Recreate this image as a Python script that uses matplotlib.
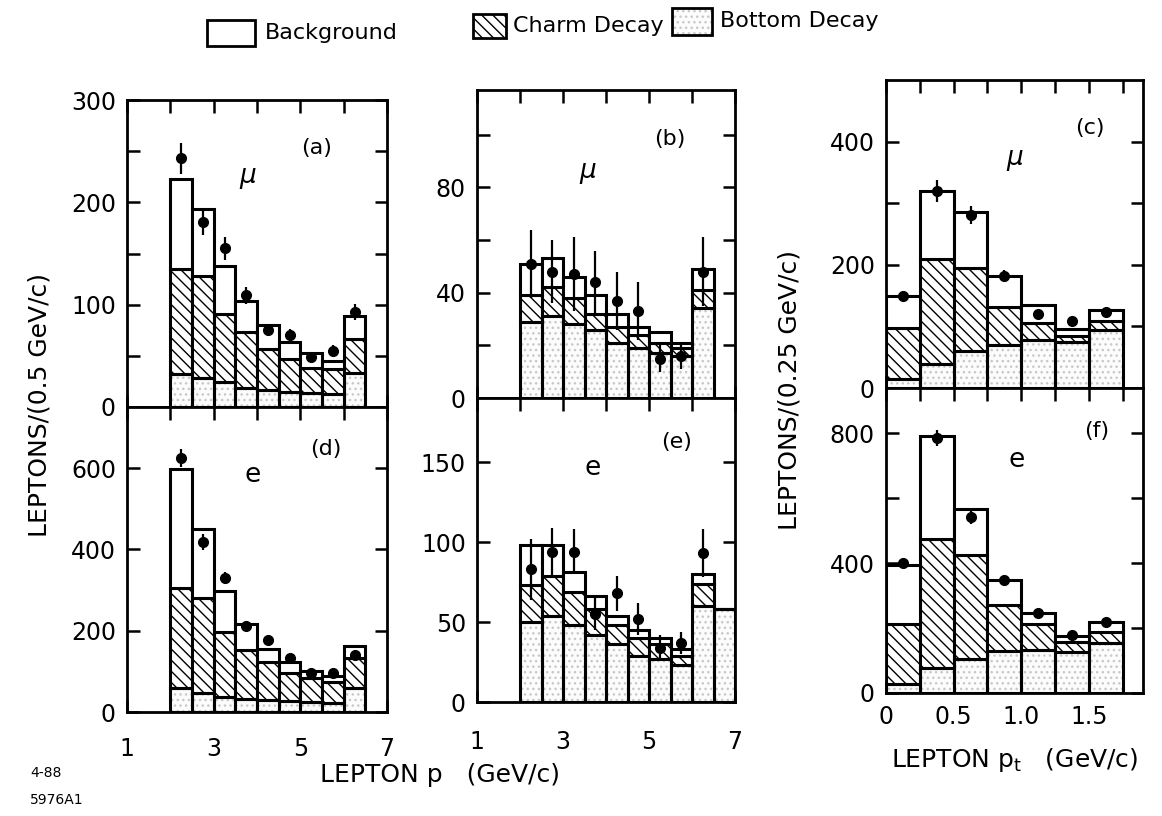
import numpy as np
import matplotlib
matplotlib.use("Agg")
import matplotlib.pyplot as plt
from matplotlib.patches import Rectangle
from matplotlib.ticker import FixedLocator, NullFormatter

plt.rcParams['font.family'] = ['DejaVu Sans']
plt.rcParams['hatch.linewidth'] = 1.0

# ---------------- data ----------------
p_bins = [2.0, 2.5, 3.0, 3.5, 4.0, 4.5, 5.0, 5.5, 6.0]
p_bins_e = [2.0, 2.5, 3.0, 3.5, 4.0, 4.5, 5.0, 5.5, 6.0, 6.5]
pt_bins = [0.0, 0.25, 0.5, 0.75, 1.0, 1.25, 1.5]

# (a) muons vs p
a_bottom = [32, 28, 24, 19, 17, 15, 14, 13, 33]
a_charm = [103, 100, 67, 54, 40, 32, 24, 24, 33]
a_bkg = [88, 65, 47, 31, 23, 17, 15, 8, 23]
a_data = [243, 181, 155, 109, 75, 70, 49, 55, 93]
a_err = [15, 13, 11, 8, 6, 6, 5, 6, 8]

# (b) muons vs p (high pt)
b_bottom = [29, 31, 28, 26, 21, 19, 17, 16, 34]
b_charm = [10, 11, 10, 6, 6, 5, 4, 3, 7]
b_bkg = [12, 11, 8, 7, 5, 3, 4, 2, 8]
b_data = [51, 48, 47, 44, 37, 33, 15, 16, 48]
b_err = [13, 12, 14, 12, 11, 11, 5, 5, 13]

# (c) muons vs pt
c_bottom = [15, 39, 60, 69, 78, 74, 94]
c_charm = [82, 170, 134, 62, 27, 11, 14]
c_bkg = [53, 110, 92, 51, 30, 10, 19]
c_data = [150, 320, 281, 182, 120, 108, 123]
c_err = [8, 18, 14, 9, 7, 6, 7]

# (d) electrons vs p
d_bottom = [58, 47, 38, 33, 30, 27, 24, 22, 60]
d_charm = [248, 233, 159, 120, 92, 69, 59, 52, 72]
d_bkg = [292, 171, 100, 64, 32, 26, 17, 15, 31]
d_data = [624, 418, 330, 211, 177, 132, 96, 97, 140]
d_err = [22, 20, 15, 12, 10, 9, 8, 8, 10]

# (e) electrons vs p (high pt)
e_bottom = [50, 54, 48, 42, 36, 29, 27, 23, 60, 58]
e_charm = [23, 25, 21, 16, 12, 11, 9, 6, 14, 0]
e_bkg = [25, 19, 12, 8, 6, 5, 4, 4, 6, 0]
e_data = [83, 94, 94, 55, 68, 52, 34, 37, 93, np.nan]
e_err = [19, 15, 14, 10, 11, 10, 8, 7, 15, np.nan]

# (f) electrons vs pt
f_bottom = [27, 76, 106, 130, 133, 125, 155]
f_charm = [187, 400, 318, 140, 79, 31, 34]
f_bkg = [182, 316, 144, 77, 34, 20, 31]
f_data = [401, 785, 541, 347, 246, 180, 220]
f_err = [15, 25, 20, 12, 10, 9, 10]

p_ticklabels = ["1", "3", "5", "7"]
pt_ticklabels = ["0", "0.5", "1.0", "1.5"]
legend_labels = ["Background", "Charm Decay", "Bottom Decay"]

# ---------------- layout ----------------
W, H = 1162, 816
fig = plt.figure(figsize=(W / 100, H / 100), dpi=100)


def add_ax(x0, y0, x1, y1):
    return fig.add_axes([x0 / W, 1 - y1 / H, (x1 - x0) / W, (y1 - y0) / H])


LW = 2.2
STIP_FACE = '#fcfcfc'
STIP_DOT = '#c8c8c8'


def stack(ax, lo, width, bottom, charm, bkg, data, err):
    lo = np.asarray(lo, float)
    bottom = np.asarray(bottom, float)
    charm = np.asarray(charm, float)
    bkg = np.asarray(bkg, float)
    # bottom decay: stipple
    ax.bar(lo, bottom, width=width, align='edge', color=STIP_FACE,
           edgecolor=STIP_DOT, linewidth=0, hatch='...', zorder=2)
    ax.bar(lo, bottom, width=width, align='edge', fill=False,
           edgecolor='black', linewidth=LW, zorder=4)
    # charm decay: hatched
    ax.bar(lo, charm, width=width, bottom=bottom, align='edge', color='white',
           edgecolor='black', linewidth=LW, hatch='\\\\\\', zorder=3)
    # background: open
    ax.bar(lo, bkg, width=width, bottom=bottom + charm, align='edge',
           color='white', edgecolor='black', linewidth=LW, zorder=3)
    ax.errorbar(lo + width / 2, data, yerr=err, fmt='o', color='black',
                ms=7, elinewidth=1.6, capsize=0, zorder=6)


def style(ax, xlim, ylim, xmaj, xmin, ymaj, ymin, ylabels, xlabels, xpad):
    ax.set_xlim(*xlim)
    ax.set_ylim(*ylim)
    for s in ax.spines.values():
        s.set_linewidth(2.0)
    ax.xaxis.set_major_locator(FixedLocator(xmaj))
    ax.xaxis.set_minor_locator(FixedLocator(xmin))
    ax.yaxis.set_major_locator(FixedLocator(ymaj))
    ax.yaxis.set_minor_locator(FixedLocator(ymin))
    ax.tick_params(which='both', direction='in', top=True, right=True,
                   length=9, width=1.8)
    ax.tick_params(axis='y', labelsize=17, pad=8)
    ax.tick_params(axis='x', labelsize=17, pad=xpad)
    if ylabels is None:
        ax.yaxis.set_major_formatter(NullFormatter())
    else:
        ax.set_yticklabels(ylabels)
    if xlabels is None:
        ax.xaxis.set_major_formatter(NullFormatter())
    else:
        ax.set_xticklabels(xlabels)


# column rectangles (pixels)
axa = add_ax(127, 100, 387, 407)
axd = add_ax(127, 407, 387, 712)
axb = add_ax(477, 90, 735, 398)
axe = add_ax(477, 398, 735, 702)
axc = add_ax(886, 80, 1143, 388)
axf = add_ax(886, 388, 1143, 693)

stack(axa, p_bins, 0.5, a_bottom, a_charm, a_bkg, a_data, a_err)
stack(axb, p_bins, 0.5, b_bottom, b_charm, b_bkg, b_data, b_err)
stack(axc, pt_bins, 0.25, c_bottom, c_charm, c_bkg, c_data, c_err)
stack(axd, p_bins, 0.5, d_bottom, d_charm, d_bkg, d_data, d_err)
stack(axe, p_bins_e, 0.5, e_bottom, e_charm, e_bkg, e_data, e_err)
stack(axf, pt_bins, 0.25, f_bottom, f_charm, f_bkg, f_data, f_err)

style(axa, (1, 7), (0, 300), [1, 3, 5, 7], [2, 4, 6], [0, 100, 200, 300],
      [50, 150, 250], ["0", "100", "200", "300"], None, 10)
style(axd, (1, 7), (0, 750), [1, 3, 5, 7], [2, 4, 6], [0, 200, 400, 600],
      [], ["0", "200", "400", "600"], p_ticklabels, 18)
style(axb, (1, 7), (0, 117), [1, 3, 5, 7], [2, 4, 6], [0, 40, 80],
      [20, 60, 100], ["0", "40", "80"], None, 10)
style(axe, (1, 7), (0, 190), [1, 3, 5, 7], [2, 4, 6], [0, 50, 100, 150],
      [], ["0", "50", "100", "150"], p_ticklabels, 20)
style(axc, (0, 1.9), (0, 500), [0, 0.5, 1.0, 1.5], [0.25, 0.75, 1.25, 1.75],
      [0, 200, 400], [100, 300], ["0", "200", "400"], None, 10)
style(axf, (0, 1.9), (0, 940), [0, 0.5, 1.0, 1.5], [0.25, 0.75, 1.25, 1.75],
      [0, 400, 800], [200, 600], ["0", "400", "800"], pt_ticklabels, 9)

# panel tags and particle symbols
tags = [(axa, "(a)", r"$\mu$", (317, 148), (248, 178)),
        (axb, "(b)", r"$\mu$", (670, 139), (588, 173)),
        (axc, "(c)", r"$\mu$", (1090, 128), (1015, 160)),
        (axd, "(d)", "e", (326, 449), (253, 475)),
        (axe, "(e)", "e", (677, 442), (593, 468)),
        (axf, "(f)", "e", (1097, 431), (1017, 460))]
for ax, tag, sym, tpos, spos in tags:
    fig.text(tpos[0] / W, 1 - tpos[1] / H, tag, fontsize=16,
             ha='center', va='center')
    fig.text(spos[0] / W, 1 - spos[1] / H, sym, fontsize=19,
             ha='center', va='center')

# axis labels
fig.text(40 / W, 1 - 405 / H, "LEPTONS/(0.5 GeV/c)", rotation=90,
         fontsize=18, ha='center', va='center')
fig.text(790 / W, 1 - 390 / H, "LEPTONS/(0.25 GeV/c)", rotation=90,
         fontsize=18, ha='center', va='center')
fig.text(440 / W, 1 - 775 / H, r"LEPTON p   (GeV/c)", fontsize=18,
         ha='center', va='center')
fig.text(1015 / W, 1 - 760 / H, r"LEPTON p$_\mathregular{t}$   (GeV/c)",
         fontsize=18, ha='center', va='center')
fig.text(30 / W, 1 - 773 / H, "4-88", fontsize=10, ha='left', va='center')
fig.text(30 / W, 1 - 800 / H, "5976A1", fontsize=10, ha='left', va='center')

# legend (manual boxes)
boxes = [((207, 20, 48, 26), None, 265, 33),
         ((473, 14, 33, 24), '\\\\\\', 513, 26),
         ((672, 8, 40, 27), '...', 720, 21)]
for (bx, by, bw, bh), hatch, tx, ty in boxes:
    xy = (bx / W, 1 - (by + bh) / H)
    if hatch == '...':
        fig.add_artist(Rectangle(xy, bw / W, bh / H, transform=fig.transFigure,
                                 facecolor=STIP_FACE, edgecolor=STIP_DOT,
                                 linewidth=0, hatch=hatch))
        fig.add_artist(Rectangle(xy, bw / W, bh / H, transform=fig.transFigure,
                                 fill=False, edgecolor='black', linewidth=2))
    else:
        fig.add_artist(Rectangle(xy, bw / W, bh / H, transform=fig.transFigure,
                                 facecolor='white', edgecolor='black',
                                 linewidth=2, hatch=hatch))
for (box, hatch, tx, ty), lab in zip(boxes, legend_labels):
    fig.text(tx / W, 1 - ty / H, lab, fontsize=16, ha='left', va='center')

fig.savefig("out.png", dpi=100)
